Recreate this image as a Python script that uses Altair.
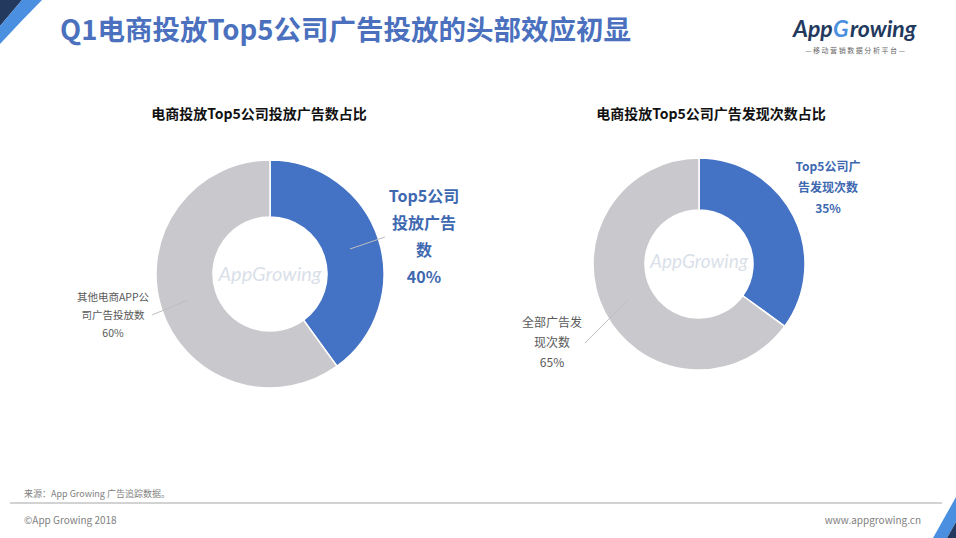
import altair as alt
import pandas as pd

W, H = 956, 538
BLUE = "#4472C4"
GRAY = "#C9C8CC"
NAVY = "#23395D"
LBLUE = "#4A8FE0"
FONT = "Noto Sans CJK SC"

# ---------------- data ----------------
page_title = "Q1电商投放Top5公司广告投放的头部效应初显"
left_title = "电商投放Top5公司投放广告数占比"
right_title = "电商投放Top5公司广告发现次数占比"

segment_kind = ["top5", "other"]
left_segments = ["Top5公司投放广告数", "其他电商APP公司广告投放数"]
left_shares = [40, 60]
right_segments = ["Top5公司广告发现次数", "全部广告发现次数"]
right_shares = [35, 65]

left_label_lines = [["Top5公司", "投放广告", "数"], ["其他电商APP公", "司广告投放数"]]
right_label_lines = [["Top5公司广", "告发现次数"], ["全部广告发", "现次数"]]

source_text = "来源：App Growing 广告追踪数据。"
copyright_text = "©App Growing 2018"
site_text = "www.appgrowing.cn"
logo_sub = "—  移 动 营 销 数 据 分 析 平 台  —"

# decoration corner shapes (pixel coordinates of the page)
tl_navy = pd.DataFrame({"x": [0, 22], "y": [0, 0], "y2": [26, 0]})
tl_blue = pd.DataFrame({"x": [0, 22, 42], "y": [26, 0, 0], "y2": [44, 20.5, 0]})
br_blue = pd.DataFrame({"x": [933, 947, 956], "y": [538, 513, 497], "y2": [538, 538, 522]})
br_navy = pd.DataFrame({"x": [947, 956], "y": [538, 522], "y2": [538, 538]})

dummy = pd.DataFrame({"d": [0]})

xs = alt.Scale(domain=[0, W], range=[0, W], nice=False, zero=False)
ys = alt.Scale(domain=[0, H], range=[0, H], nice=False, zero=False)


def shape(df, color):
    return alt.Chart(df).mark_area(color=color, interpolate="linear").encode(
        x=alt.X("x:Q", scale=xs, axis=None),
        y=alt.Y("y:Q", scale=ys, axis=None),
        y2="y2:Q",
    )


def txt(t, x, y, size, color, weight="normal", align="center", baseline="middle",
        font=FONT, style="normal", lh=None, opacity=1.0):
    kw = dict(fontSize=size, color=color, fontWeight=weight, align=align,
              baseline=baseline, font=font, fontStyle=style, opacity=opacity)
    if lh is not None:
        kw["lineHeight"] = lh
    return alt.Chart(dummy).mark_text(**kw).encode(
        text=alt.value(t), x=alt.value(x), y=alt.value(y))


def line(x1, y1, x2, y2, color="#BFBFBF", w=1):
    return alt.Chart(dummy).mark_rule(color=color, strokeWidth=w).encode(
        x=alt.value(x1), y=alt.value(y1), x2=alt.value(x2), y2=alt.value(y2))


def donut(segments, shares, cx, cy, r_in, r_out):
    df = pd.DataFrame({"segment": segments, "share": shares,
                       "kind": segment_kind, "order": [0, 1]})
    return alt.Chart(df).mark_arc(innerRadius=r_in, outerRadius=r_out,
                                  stroke="white", strokeWidth=1.5).encode(
        theta=alt.Theta("share:Q", stack=True),
        color=alt.Color("kind:N", scale=alt.Scale(domain=segment_kind, range=[BLUE, GRAY]),
                        legend=None),
        order=alt.Order("order:Q"),
        x=alt.value(cx), y=alt.value(cy),
        tooltip=["segment:N", "share:Q"],
    )


layers = [
    shape(tl_navy, NAVY), shape(tl_blue, LBLUE),
    shape(br_blue, LBLUE), shape(br_navy, NAVY),
    txt(page_title, 60, 32, 27.5, "#4A70BE", weight="bold", align="left"),
    # logo
    txt("App", 793, 30, 23, NAVY, weight="bold", align="left", font="Lato", style="italic"),
    txt("G", 833, 30, 23, LBLUE, weight="bold", align="left", font="Lato", style="italic"),
    txt("rowing", 850, 30, 23, NAVY, weight="bold", align="left", font="Lato", style="italic"),
    txt(logo_sub, 855, 51, 7, "#666666"),
    # panel titles
    txt(left_title, 259, 115, 14, "#111111", weight="bold"),
    txt(right_title, 711, 115, 14, "#111111", weight="bold"),
    # donuts
    donut(left_segments, left_shares, 270, 274, 57, 114),
    donut(right_segments, right_shares, 699, 264, 54, 106),
    # watermarks
    txt("AppGrowing", 270, 275, 20, "#AEBBD0", style="italic", font="Lato", opacity=0.45),
    txt("AppGrowing", 699, 262, 19, "#AEBBD0", style="italic", font="Lato", opacity=0.45),
    # leader lines
    line(350, 249, 385, 237),
    line(152, 315, 188, 300),
    line(585, 343, 628, 300),
    # labels (y = centre of first line)
    txt(left_label_lines[0] + [f"{left_shares[0]}%"], 424, 197, 16, "#3E68B0",
        weight="bold", lh=27),
    txt(left_label_lines[1] + [f"{left_shares[1]}%"], 113, 298, 10.5, "#595959", lh=18),
    txt(right_label_lines[0] + [f"{right_shares[0]}%"], 828, 167, 12, "#3E68B0",
        weight="bold", lh=21),
    txt(right_label_lines[1] + [f"{right_shares[1]}%"], 552, 323, 12, "#595959", lh=20),
    # footer
    txt(source_text, 24, 494, 9, "#7F7F7F", align="left"),
    line(10, 503, 942, 503, color="#A6A6A6", w=1),
    txt(copyright_text, 24, 521, 10, "#7F7F7F", align="left"),
    txt(site_text, 921, 521, 10, "#7F7F7F", align="right"),
]

chart = alt.layer(*layers).resolve_scale(theta="independent").properties(
    width=W, height=H, padding=0, autosize="none", background="white"
).configure_view(stroke=None)

chart.save("out.html", embed_options={"renderer": "svg", "actions": False})
